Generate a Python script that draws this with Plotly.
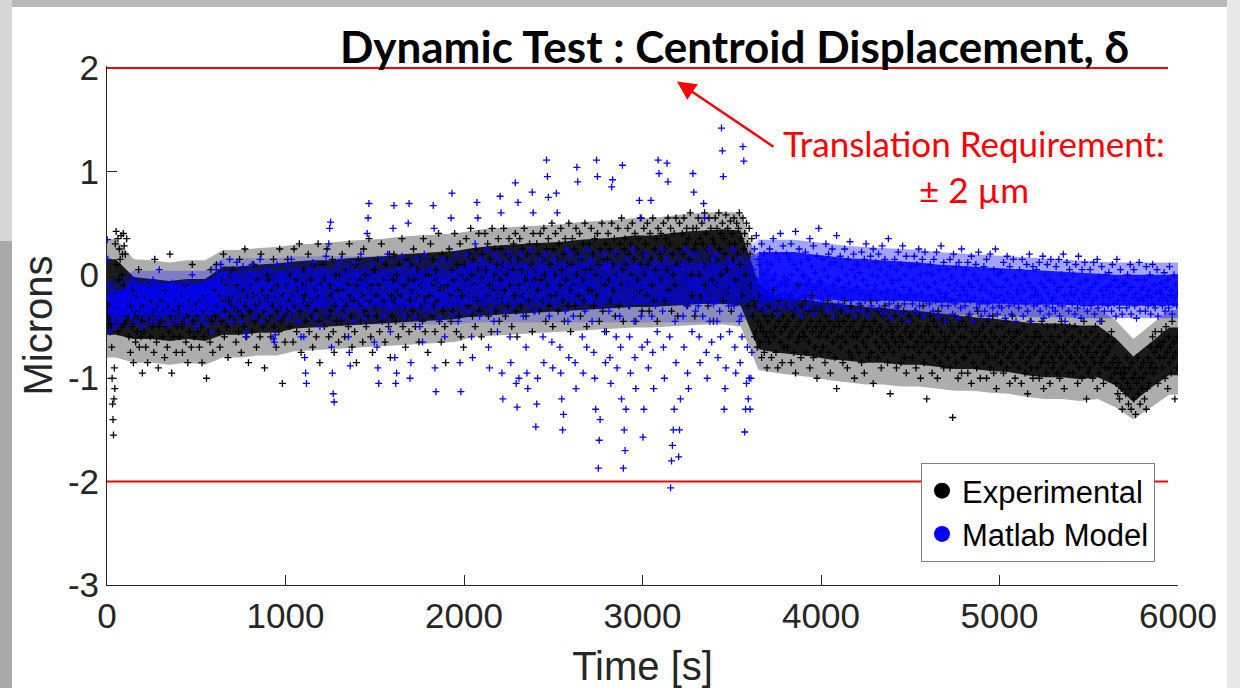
import plotly.graph_objects as go

# ---------------- data (values in hundredths of a micron, per 100 s bin) ----------------
BIN_SECONDS = 100

EXP_BINS = [
    [-30,-42,-35,-50,-40,-28,-45,-55,-38,-48,-70,-100,-125,-140,-155,-120,-90,-110,30,-20,42,-45,10,-30,35,-55,-5,25,-40,15,-25,38,-50,0,20,-35,40,-10,28,-48],
    [20,-45,35,-30,-40,-60,-25,-75,-30,-50,-15,-85,-45,-35,-65,-20,-55,-40,5,-70,-30,-60,-45,-95],
    [-30,-55,-20,-70,-40,-85,-10,-45,-60,-25,-50,-35,-75,15,-40,-65,-30,-90,-50,-20],
    [-45,-25,-60,-35,-80,-15,-50,-70,-30,-55,20,-40,-95,-35,-60,-25,-45,-75,-50,-30],
    [-35,-60,-20,-50,-75,-30,-45,-10,-65,-40,-85,-25,-55,-35,-70,10,-45,-60,-30,-50],
    [-30,-55,-40,-70,-25,-50,-85,-35,-60,-20,-45,-100,-30,-55,-40,-65,5,-45,-75,-35],
    [-15,-40,10,-30,-55,-20,-70,-5,-45,-25,20,-60,-35,-10,-50,-80,-25,-40,0,-30],
    [-20,5,-45,-30,-65,-10,-35,-55,15,-25,-75,-40,-15,-50,25,-30,-60,-20,-85,-35],
    [-10,-35,-55,-20,10,-45,-30,-70,-5,-40,-25,-60,20,-15,-50,-35,-90,-20,-45,0],
    [-25,-5,-40,-60,-15,-30,15,-50,-20,-70,-35,-10,-55,25,-30,-45,-105,-20,-40,-65],
    [-10,-35,15,-25,-50,0,-40,-20,-65,25,-30,-5,-55,-15,-45,30,-35,-75,-10,-25],
    [5,-20,-45,-10,-30,20,-55,-25,-5,-40,-70,10,-15,-35,-60,-20,30,-45,-85,-10],
    [-15,10,-30,-50,-5,-25,25,-40,-60,-10,-35,-20,15,-55,-75,-30,0,-45,-15,-65],
    [0,-25,-45,20,-15,-35,-60,5,-30,-10,-50,30,-20,-40,-70,-5,-25,-55,10,-85],
    [-10,15,-30,-5,-45,-20,-65,25,-35,0,-50,-15,-40,35,-25,-60,-10,-75,5,-30],
    [5,-20,-40,15,-10,-55,-30,30,-45,-5,-25,-65,10,-35,-15,-50,20,-80,-20,-40],
    [-5,20,-25,-45,0,-15,-60,10,-35,-20,35,-50,-10,-30,-70,15,-40,-5,-55,-25],
    [10,-15,-35,25,-5,-50,-20,5,-40,-65,15,-30,-10,-45,35,-25,-55,0,-20,-75],
    [0,-20,30,-10,-40,15,-30,-55,5,-25,-5,40,-45,-15,-65,20,-35,-10,-50,-85],
    [15,-10,-30,25,-20,-45,5,-35,-5,40,-25,-55,10,-15,-40,30,-60,-20,0,-70],
    [10,-15,35,-5,-30,20,-20,45,0,-40,15,-10,-50,25,-25,5,40,-35,-5,-60],
    [20,-5,-30,40,5,-20,30,-40,-10,15,-55,45,-15,0,25,-35,10,-25,35,-45],
    [-5,25,-25,10,45,-15,-40,20,0,-30,35,-10,15,-50,5,30,-20,40,-35,-60],
    [15,-10,35,-30,5,25,-20,45,-5,-40,20,0,-25,30,-15,10,-55,40,-35,-5],
    [5,30,-15,20,-35,40,-5,15,-25,45,0,-45,25,-10,35,-30,10,-20,50,-50],
    [25,0,40,-20,15,-35,30,-10,45,5,-25,20,-45,35,-5,10,-30,50,-15,-55],
    [10,35,-10,25,-30,45,0,20,-20,40,-40,15,-5,30,-25,50,5,-50,25,-15],
    [30,5,45,-15,20,-30,35,0,-20,40,10,-45,25,-5,50,-35,15,-10,30,-55],
    [15,40,-5,25,-25,50,10,-15,35,-40,20,0,45,-30,30,-10,55,5,-45,25],
    [35,10,-10,45,20,-30,30,0,50,-20,15,40,-45,25,-5,35,-15,10,55,-35],
    [20,45,0,30,-20,50,10,-35,40,15,-10,55,-25,25,5,35,-45,45,-5,20],
    [40,15,-5,50,25,-25,35,5,55,-15,30,45,-35,20,0,40,-10,55,10,-40],
    [25,50,10,-15,40,20,55,-5,30,45,-30,35,15,60,0,-20,45,25,-40,30],
    [45,20,55,0,35,-20,50,30,10,60,-10,40,25,-30,55,15,45,-5,35,-45],
    [30,55,15,45,-10,60,25,40,0,50,-25,35,20,58,5,45,-15,30,52,-35],
    [40,15,55,30,-5,50,20,45,60,10,35,-20,55,25,40,0,50,30,-30,45],
    [20,-10,35,-40,-25,-60,-30,-55,-70,-45,-20,-65,-50,-80,-35,-55,-75,-40,-60,-90],
    [-45,-65,-30,-55,-80,-40,-15,-60,-50,-75,-35,-90,-45,-25,-65,-55,-85,-40,-70,-50],
    [-50,-30,-70,-45,-60,-20,-85,-55,-40,-75,-35,-95,-50,-65,-10,-60,-45,-80,-30,-55],
    [-40,-60,-25,-75,-50,-35,-65,-90,-45,-20,-55,-80,-35,-70,-50,-100,-30,-60,-45,-75],
    [-55,-35,-70,-50,-85,-40,-60,-25,-75,-45,-95,-55,-30,-65,-50,-80,-40,-110,-60,-45],
    [-50,-70,-35,-60,-85,-45,-25,-65,-55,-90,-40,-75,-50,-30,-80,-60,-45,-100,-55,-70],
    [-60,-40,-75,-55,-30,-85,-50,-65,-95,-45,-70,-35,-60,-80,-50,-25,-75,-55,-105,-45],
    [-45,-65,-55,-80,-35,-70,-50,-90,-60,-40,-75,-30,-65,-55,-85,-45,-70,-115,-50,-60],
    [-55,-75,-40,-65,-90,-50,-30,-70,-60,-85,-45,-65,-35,-80,-55,-95,-50,-70,-40,-60],
    [-60,-45,-80,-55,-70,-35,-90,-65,-50,-75,-40,-100,-60,-70,-30,-85,-55,-65,-120,-50],
    [-55,-75,-40,-65,-95,-60,-45,-80,-70,-50,-100,-35,-65,-85,-55,-75,-45,-90,-60,-70],
    [-65,-45,-80,-60,-90,-50,-70,-138,-55,-75,-40,-85,-65,-100,-50,-70,-60,-95,-45,-80],
    [-60,-80,-50,-70,-95,-40,-75,-65,-105,-55,-85,-45,-70,-60,-90,-35,-75,-55,-100,-65],
    [-70,-50,-85,-60,-75,-100,-45,-80,-65,-90,-55,-70,-40,-95,-60,-80,-110,-50,-75,-65],
    [-65,-85,-50,-75,-95,-60,-70,-45,-90,-80,-55,-105,-65,-75,-40,-85,-60,-100,-70,-55],
    [-70,-90,-55,-80,-105,-65,-75,-50,-95,-85,-60,-115,-70,-80,-45,-90,-65,-100,-75,-60],
    [-75,-55,-90,-70,-100,-60,-85,-45,-80,-110,-65,-75,-95,-50,-85,-70,-105,-60,-80,-90],
    [-65,-85,-50,-75,-95,-70,-60,-100,-80,-45,-90,-70,-110,-55,-85,-75,-65,-95,-50,-80],
    [-80,-60,-95,-70,-50,-85,-75,-105,-65,-90,-55,-80,-100,-70,-45,-85,-60,-120,-75,-95],
    [-70,-90,-55,-80,-100,-65,-85,-50,-75,-110,-60,-95,-70,-85,-45,-80,-105,-65,-90,-75],
    [-75,-60,-90,-70,-100,-55,-85,-65,-95,-80,-105,-90,-115,-85,-120,-95,-110,-130,-100,-90],
    [-95,-115,-80,-105,-125,-90,-110,-130,-85,-100,-120,-95,-135,-105,-80,-115,-100,-125,-90,-110],
    [-100,-85,-120,-95,-130,-110,-80,-105,-90,-70,-85,-60,-95,-75,-55,-90,-70,-105,-65,-80],
    [-70,-55,-90,-65,-80,-100,-50,-75,-110,-60,-85,-70,-95,-45,-80,-65,-120,-75,-90,-60],
]

MOD_BINS = [
    [34,15,-10,-35,-55,-25,-35,-20,-40,-30,-45,-15,-35,-25,-50,-30,-20,-40,-28,-35,-45,-22,-38,-30,-25,-42,-32,-20,-36,-28],
    [-20,-30,-15,-35,-25,-10,-40,-22,-28,-5,-33,-18,-45,-25,-12,-30,-38,-20,-27,-50],
    [-25,-15,-32,-20,-40,-10,-28,-35,-18,-45,-22,-5,-30,-38,-15,-26,-42,-20,5,-33],
    [-18,-30,-22,-40,-12,-28,-35,-20,-48,-15,-25,-32,-8,-38,-22,-30,-16,-44,-26,-20],
    [-22,-12,-35,-25,-40,-18,-30,-8,-28,-45,-20,-34,-15,-26,-38,0,-24,-32,-18,-50],
    [-20,-30,-14,-36,-24,-42,-10,-28,-32,-18,-46,-22,-6,-30,-38,-16,-26,-55,-20,-34],
    [-10,-25,5,-18,-35,-5,-30,10,-22,-40,-12,-28,0,-15,-38,-8,-32,15,-20,-45],
    [-15,0,-28,-8,-38,12,-20,-30,-5,-45,-12,-25,8,-35,-18,-60,-55,-10,-28,2],
    [-5,-20,10,-32,-12,-40,0,-25,-15,-8,-35,15,-22,-45,-10,-30,5,-18,-28,-38],
    [-12,5,-25,-35,-8,-18,-62,-65,-58,-20,10,-30,-5,-40,-15,0,-28,-10,-35,-22],
    [-5,-20,10,-30,-12,-40,15,-22,-8,-35,0,-18,-28,5,-45,-10,-25,-60,-15,-32],
    [-60,-80,-95,-105,-10,-25,5,-35,-15,-20,12,-30,-8,-40,-18,0,-28,-12,-50,-22],
    [-15,5,-30,-10,-25,18,-38,-5,30,45,51,-70,-95,-115,-123,-20,-8,-35,10,-25],
    [-10,-28,15,-18,-40,0,-22,-12,-35,8,-60,-75,-88,-15,-30,-5,-45,12,-20,-30],
    [0,-20,-35,-8,20,-25,-12,-42,5,-30,-15,40,55,69,-22,-5,-38,10,-28,-65],
    [-12,-25,-70,-90,-105,-5,-30,15,-18,-40,0,-22,-8,-35,20,-15,-28,-55,-10,-32],
    [45,67,-80,-105,-95,-10,-25,5,-35,-15,18,-28,-5,-40,-20,10,-30,50,69,-100],
    [-85,-12,-28,5,-20,-40,-8,15,-30,-15,-50,0,-25,-65,-10,20,-35,-18,-5,-30],
    [-10,5,-25,-15,-35,67,45,-90,-113,-20,10,-30,-5,-42,-18,15,-28,-8,-60,-22],
    [-5,-22,12,-30,-15,55,79,-10,-38,0,-25,20,-18,-45,-8,-85,-113,-28,5,-35],
    [0,-15,20,-25,-8,-35,10,-20,-60,-80,5,-12,30,-28,70,55,-5,-40,15,-18],
    [-10,12,-30,-5,-22,25,-15,-70,-90,0,-35,8,-18,-45,20,-28,-8,-55,15,-25],
    [76,60,-95,-120,-10,-25,10,-35,-5,22,-18,-60,-85,0,-30,15,-12,89,-105,-128],
    [70,-100,-5,20,-25,-12,-40,8,-20,-70,-95,-110,0,-30,25,-15,80,60,-8,-35],
    [-147,-125,-100,5,-20,15,-30,-10,-60,-85,20,-25,111,95,75,-40,0,-15,-65,-90],
    [-10,15,-30,79,60,-5,-22,-70,-95,-120,-150,-135,10,-35,-15,25,-45,-80,-8,20],
    [-20,5,-40,-12,-85,-110,104,90,-5,-28,18,-15,-60,-95,10,-35,-8,-70,25,-22],
    [0,-25,15,-45,-10,-75,-100,-130,111,95,-187,-160,-140,-30,-5,-20,20,-55,-85,8],
    [-15,10,-35,-80,-105,85,92,-5,-25,22,-60,-90,-12,0,-40,-70,-120,106,-187,-150],
    [-170,-130,-10,15,-30,-60,-95,-5,-20,25,-45,-80,-110,8,-25,-12,72,55,-40,-70],
    [-157,-130,-8,20,-25,-65,-90,-15,0,72,-40,-75,-110,12,-30,-5,-55,111,98,-20],
    [-10,25,-35,-70,-100,-5,15,108,90,-20,-60,-206,-180,-165,-150,-130,-45,-85,5,-25],
    [-176,-150,-120,-15,10,-40,-70,-5,25,-30,-95,-110,-8,-25,20,-55,98,80,-12,-35],
    [-5,20,-30,-60,-85,-15,10,-40,69,55,-20,-75,-100,0,25,-45,-10,-65,15,-28],
    [5,-25,20,-45,-80,-10,-35,-60,142,120,95,-130,-110,-90,-5,15,-30,-55,-15,10],
    [-10,25,-30,-70,-95,0,-20,15,-45,-85,-40,-60,124,110,-152,-130,-105,-70,-120,-100],
    [-130,-100,-75,5,-10,25,-20,38,-5,15,-30,10,-15,30,-25,0,20,-35,-8,12],
    [5,-15,25,-25,10,-5,35,-30,0,20,-12,-38,15,-20,40,-8,-28,28,-2,-18],
    [-10,20,-5,-30,15,-20,30,0,-25,10,-15,42,-35,5,-8,25,-22,12,-40,-2],
    [0,-20,22,-10,-32,15,-5,35,-25,8,-15,28,-38,2,-12,18,-28,45,-6,-22],
    [-8,15,-25,5,-15,30,-35,-2,20,-20,10,-30,25,-10,-40,12,-18,38,-5,-28],
    [-5,18,-22,8,-30,-12,25,-18,0,-35,15,-8,32,-25,5,-15,20,-40,-2,10],
    [-12,10,-28,2,-18,22,-35,-5,15,-25,30,-10,-40,8,-20,18,-30,0,25,-15],
    [-10,12,-25,-2,20,-32,5,-18,28,-8,-38,15,-22,0,-15,35,-28,8,-42,-5],
    [-8,-25,15,-15,5,-32,22,-5,-20,10,-38,28,-12,-28,0,18,-22,-45,8,-15],
    [-15,8,-28,-5,18,-20,-35,10,-10,25,-30,0,-18,15,-40,-8,22,-25,2,-12],
    [-12,-28,10,-20,0,-35,15,-8,-25,22,-15,-40,5,-18,28,-30,-5,12,-22,-45],
    [-18,5,-30,-10,15,-25,-2,-38,20,-15,-28,8,-8,-42,12,-20,-32,25,-12,0],
    [-15,-30,5,-20,12,-8,-38,-25,18,-12,-45,0,-22,10,-32,-5,22,-28,-15,-40],
    [-10,-25,8,-35,-15,15,-28,-5,-40,20,-18,-8,-32,5,-22,25,-12,-38,0,-30],
    [-20,2,-32,-12,12,-25,-42,-5,18,-18,-30,8,-10,-38,-22,15,-28,-2,-45,-15],
    [-18,-32,5,-10,-25,15,-40,-15,0,-28,10,-35,-8,20,-22,-45,-12,8,-30,-20],
    [-15,5,-28,-20,12,-35,-8,-25,18,-42,-12,0,-30,10,-18,-38,-5,15,-25,-32],
    [-22,-8,-35,8,-15,-28,15,-40,-12,0,-30,20,-20,-45,-5,12,-25,-35,5,-18],
    [-12,-28,0,-20,-38,10,-15,-32,18,-25,-8,-42,5,-18,-30,12,-22,-5,-35,-15],
    [-18,5,-30,-12,-25,12,-38,-8,-22,15,-32,-2,-45,-15,8,-28,-20,-35,0,-12],
    [-15,-30,2,-22,-10,-35,10,-18,-28,-5,-40,15,-25,-12,-32,5,-20,-38,-8,-25],
    [-20,-8,-32,0,-15,-28,10,-38,-12,-22,5,-30,-18,-42,-5,-25,12,-35,-15,-22],
    [-12,-25,-5,-35,8,-20,-30,-15,0,-38,-22,10,-28,-10,-32,-18,5,-40,-25,-15],
    [-18,-8,-30,-22,2,-35,-12,-25,-5,-32,8,-20,-15,-38,-28,0,-22,-10,-30,-18],
]

# dense-core envelopes per bin (hundredths of a micron): inner core and outer halo
EXP_CORE_LO = [-58,-62,-62,-64,-62,-64,-58,-58,-56,-56,-52,-51,-50,-49,-48,-47,-46,-45,-44,-43,
               -40,-39,-38,-37,-36,-35,-34,-33,-32,-31,-31,-30,-29,-28,-28,-30,-72,-75,-77,-79,
               -82,-83,-85,-85,-87,-87,-89,-91,-91,-93,-94,-97,-99,-99,-101,-99,-107,-123,-109,-97]
EXP_CORE_HI = [15,-2,-4,-6,-4,-4,8,8,10,11,13,14,14,16,17,18,20,21,22,23,
               26,28,29,30,31,32,34,35,36,38,38,40,42,43,44,43,-8,-21,-23,-25,
               -27,-29,-31,-32,-34,-35,-37,-39,-41,-42,-44,-46,-47,-47,-49,-49,-61,-79,-65,-51]
EXP_OUTER_LO = [-80,-85,-85,-87,-85,-87,-80,-80,-78,-78,-74,-73,-72,-71,-70,-69,-68,-67,-66,-65,
                -60,-59,-58,-57,-56,-55,-54,-53,-52,-51,-51,-50,-49,-48,-48,-50,-92,-95,-97,-99,
                -102,-104,-106,-106,-108,-108,-110,-112,-112,-114,-115,-118,-120,-120,-122,-120,-128,-140,-128,-116]
EXP_OUTER_HI = [35,15,14,12,14,14,24,24,26,27,29,30,31,33,34,35,37,38,39,40,
                43,45,46,47,48,49,51,52,53,55,55,57,59,60,61,60,10,-4,-6,-8,
                -10,-12,-14,-15,-17,-18,-20,-22,-24,-25,-27,-29,-30,-30,-32,-32,-44,-62,-48,-34]
MOD_CORE_LO = [-40,-38,-38,-38,-38,-38,-34,-34,-34,-34,-32,-32,-32,-32,-32,-32,-32,-32,-32,-32,
               -28,-28,-28,-28,-28,-28,-28,-28,-28,-28,-28,-28,-28,-28,-28,-28,-24,-24,-24,-24,
               -24,-25,-25,-25,-25,-26,-27,-27,-27,-28,-28,-29,-29,-29,-30,-30,-30,-30,-30,-30]
MOD_CORE_HI = [-18,-8,-8,-8,-8,-8,4,4,4,4,6,6,6,6,6,6,6,6,6,6,
               12,12,12,12,12,12,12,12,12,12,12,12,12,12,12,12,22,22,22,20,
               18,16,15,14,13,12,10,9,8,7,6,5,4,3,2,1,0,0,0,0]
MOD_OUTER_LO = [-52,-50,-50,-50,-50,-50,-48,-48,-48,-48,-48,-48,-48,-48,-48,-48,-48,-48,-48,-48,
                -46,-46,-46,-46,-46,-46,-46,-46,-46,-46,-46,-46,-46,-46,-46,-46,-36,-36,-36,-36,
                -36,-37,-37,-37,-37,-38,-39,-39,-39,-40,-40,-41,-41,-41,-42,-42,-42,-42,-42,-42]
MOD_OUTER_HI = [-5,4,4,4,4,4,16,16,16,16,18,18,18,18,18,18,18,18,18,18,
                24,24,24,24,24,24,24,24,24,24,24,24,24,24,24,24,34,34,34,32,
                30,28,27,26,25,24,22,21,20,19,18,17,16,15,14,13,12,12,12,12]
# the model's cloud drawn lighter where it overlays the experimental cloud
MOD_CORE_SEGMENTS = [(0, 7, 0.80), (6, 37, 0.50), (36, 60, 0.85)]
MOD_OUTER_SEGMENTS = [(0, 7, 0.28), (6, 37, 0.20), (36, 60, 0.36)]

Y_TICKS = [-3, -2, -1, 0, 1, 2]
X_TICKS = [0, 1000, 2000, 3000, 4000, 5000, 6000]

REQ_LIMIT = 2.0          # translation requirement, +/- microns
REQ_LINE_END = 5944      # seconds
ARROW_TIP = (3193, 1.87)
ARROW_TAIL = (3742, 1.23)

EXP_NAME = "Experimental"
MOD_NAME = "Matlab Model"
EXP_COLOR = "#000000"
MOD_COLOR = "#0000ff"


def expand(bins):
    t, v = [], []
    for b, vals in enumerate(bins):
        n = len(vals)
        for k, val in enumerate(vals):
            t.append(b * BIN_SECONDS + (k + 0.5) * BIN_SECONDS / n)
            v.append(val / 100.0)
    return t, v


nb = len(EXP_CORE_LO)
centers = [b * BIN_SECONDS + BIN_SECONDS / 2 for b in range(nb)]
exp_t, exp_v = expand(EXP_BINS)
mod_t, mod_v = expand(MOD_BINS)

fig = go.Figure()


def band(i0, i1, lo, hi, rgba):
    xs = centers[i0:i1]
    ylo = [v / 100 for v in lo[i0:i1]]
    yhi = [v / 100 for v in hi[i0:i1]]
    if i0 == 0:
        xs = [0] + xs
        ylo = [ylo[0]] + ylo
        yhi = [yhi[0]] + yhi
    if i1 >= nb:
        xs = xs + [nb * BIN_SECONDS]
        ylo = ylo + [ylo[-1]]
        yhi = yhi + [yhi[-1]]
    fig.add_trace(go.Scatter(x=xs, y=ylo, mode="lines", line=dict(width=0),
                             showlegend=False, hoverinfo="skip"))
    fig.add_trace(go.Scatter(x=xs, y=yhi, mode="lines", line=dict(width=0), fill="tonexty",
                             fillcolor=rgba, showlegend=False, hoverinfo="skip"))


band(0, nb, EXP_OUTER_LO, EXP_OUTER_HI, "rgba(0,0,0,0.32)")
band(0, nb, EXP_CORE_LO, EXP_CORE_HI, "rgba(0,0,0,0.85)")
for i0, i1, op in MOD_OUTER_SEGMENTS:
    band(i0, i1, MOD_OUTER_LO, MOD_OUTER_HI, "rgba(0,0,255,%.2f)" % op)
for i0, i1, op in MOD_CORE_SEGMENTS:
    band(i0, i1, MOD_CORE_LO, MOD_CORE_HI, "rgba(0,0,255,%.2f)" % op)

# scatter clouds
fig.add_trace(go.Scatter(x=exp_t, y=exp_v, mode="markers", showlegend=False,
                         marker=dict(symbol="cross-thin", size=5, color=EXP_COLOR,
                                     line=dict(color=EXP_COLOR, width=1.3))))
fig.add_trace(go.Scatter(x=mod_t, y=mod_v, mode="markers", showlegend=False,
                         marker=dict(symbol="cross-thin", size=5, color=MOD_COLOR,
                                     line=dict(color=MOD_COLOR, width=1.3))))

# legend entries (filled circles, as in the reference)
fig.add_trace(go.Scatter(x=[None], y=[None], mode="markers", name=EXP_NAME,
                         marker=dict(symbol="circle", size=16, color=EXP_COLOR)))
fig.add_trace(go.Scatter(x=[None], y=[None], mode="markers", name=MOD_NAME,
                         marker=dict(symbol="circle", size=16, color=MOD_COLOR)))

# requirement lines
for sgn in (1, -1):
    fig.add_shape(type="line", xref="x", yref="y", x0=0, x1=REQ_LINE_END,
                  y0=sgn * REQ_LIMIT, y1=sgn * REQ_LIMIT,
                  line=dict(color="#ff0000", width=2), layer="above")

W, H = 1240, 688
ML, MR, MT, MB = 107, 62, 66, 103


def px(xp, yp):
    return (xp - ML) / (W - ML - MR), (H - MB - yp) / (H - MT - MB)


# slide-screenshot frame decorations
def rect(x0p, y0p, x1p, y1p, color):
    a = px(x0p, y0p)
    b = px(x1p, y1p)
    fig.add_shape(type="rect", xref="paper", yref="paper", x0=a[0], y0=a[1], x1=b[0], y1=b[1],
                  line=dict(width=0), fillcolor=color, layer="below")


rect(12, 0, 1227, 7, "#b8b8b8")
rect(0, 0, 12, 241, "#d6d6d6")
rect(0, 241, 12, 688, "#a9a9a9")
rect(1227, 0, 1240, 688, "#e8e8e8")

tx, ty = px(734, 46)
fig.add_annotation(text="<b>Dynamic Test : Centroid Displacement, δ</b>", xref="paper", yref="paper",
                   x=tx, y=ty, xanchor="center", yanchor="middle", showarrow=False,
                   font=dict(family="Lato", size=44, color="#000000"))

ax_, ay_ = px(974, 166)
fig.add_annotation(text="Translation Requirement:<br>± 2 µm", xref="paper", yref="paper",
                   x=ax_, y=ay_, xanchor="center", yanchor="middle", showarrow=False,
                   font=dict(family="Lato", size=35, color="#ff0000"))

fig.add_annotation(text="", x=ARROW_TIP[0], y=ARROW_TIP[1], xref="x", yref="y",
                   ax=ARROW_TAIL[0], ay=ARROW_TAIL[1], axref="x", ayref="y",
                   showarrow=True, arrowhead=2, arrowsize=1.5, arrowwidth=2.5,
                   arrowcolor="#ff0000")

axis_font = dict(family="Liberation Sans, Arial", size=35, color="#262626")
title_font = dict(family="Liberation Sans, Arial", size=40, color="#262626")
fig.update_layout(
    width=W, height=H,
    margin=dict(l=ML, r=MR, t=MT, b=MB, autoexpand=False),
    paper_bgcolor="white", plot_bgcolor="white",
    showlegend=True,
    legend=dict(x=px(1155, 0)[0], y=px(0, 562)[1], xanchor="right", yanchor="bottom",
                traceorder="normal",
                bgcolor="white", bordercolor="#808080", borderwidth=1,
                font=dict(family="Liberation Sans, Arial", size=31, color="#000000"),
                itemsizing="trace", tracegroupgap=0),
    xaxis=dict(range=[0, 6000], tickvals=X_TICKS, ticktext=[str(v) for v in X_TICKS],
               ticks="inside", ticklen=10, tickcolor="#262626", tickwidth=1,
               showline=True, linecolor="#262626", linewidth=1, mirror=False,
               showgrid=False, zeroline=False, tickfont=axis_font, automargin=False,
               title=dict(text="Time [s]", font=title_font, standoff=21)),
    yaxis=dict(range=[-3, 2.02], tickvals=Y_TICKS, ticktext=[str(v) for v in Y_TICKS],
               ticks="inside", ticklen=10, tickcolor="#262626", tickwidth=1,
               showline=True, linecolor="#262626", linewidth=1, mirror=False,
               showgrid=False, zeroline=False, tickfont=axis_font, automargin=False,
               title=dict(text="Microns", font=title_font, standoff=2)),
)

fig.write_html("out.html")
